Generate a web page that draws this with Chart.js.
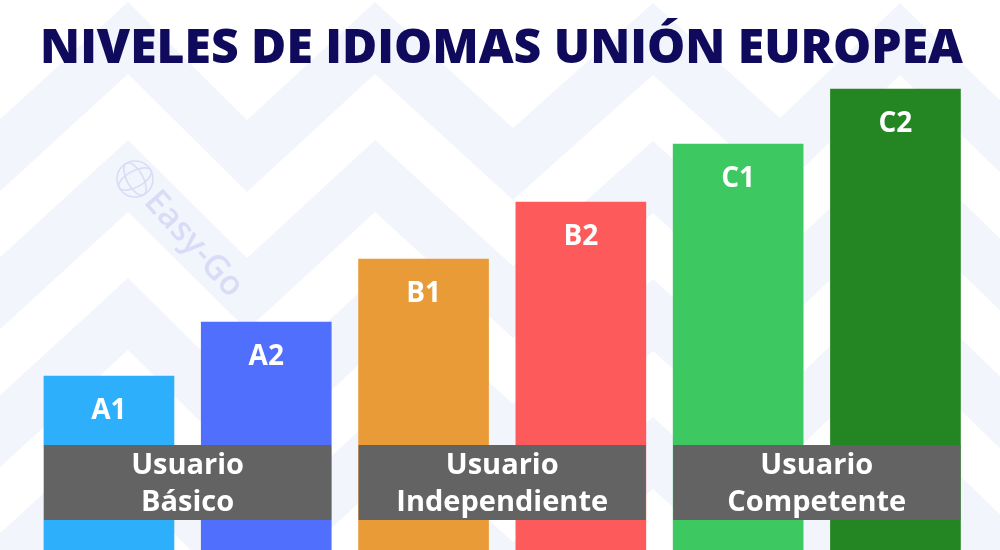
<!DOCTYPE html>
<html>
<head>
<meta charset="utf-8">
<script src="https://cdn.jsdelivr.net/npm/chart.js@4.4.1/dist/chart.umd.min.js"></script>
<style>
  html,body{margin:0;padding:0;background:#fff;}
  #wrap{position:relative;width:1000px;height:550px;}
</style>
</head>
<body>
<div id="wrap"><canvas id="c" width="1000" height="550"></canvas></div>
<script>
// ---- data ----
const titleText = "NIVELES DE IDIOMAS UNIÓN EUROPEA";
const levels = ["A1", "A2", "B1", "B2", "C1", "C2"];
const levelValues = [174, 228, 291, 348, 406, 461];
const levelColors = ["#2eaffc", "#4f6ffc", "#e99b38", "#fd5b5b", "#3dc862", "#248622"];
const groupLabels = [["Usuario", "Básico"], ["Usuario", "Independiente"], ["Usuario", "Competente"]];
const watermarkText = "Easy-Go";

// background zigzag (decoration)
const zigTop = [[-3,122],[128,2],[247,120],[375,2],[513,128],[653,3],[780,118],[900,3],[1022,122]];

const decoPlugin = {
  id: 'deco',
  beforeDraw(chart) {
    const ctx = chart.ctx;
    ctx.save();
    ctx.fillStyle = '#ffffff';
    ctx.fillRect(0, 0, chart.width, chart.height);
    ctx.fillStyle = '#f3f5fd';
    for (let k = 0; k < 4; k++) {
      const off = k * 138;
      ctx.beginPath();
      zigTop.forEach((p, i) => { if (i === 0) ctx.moveTo(p[0], p[1] + off); else ctx.lineTo(p[0], p[1] + off); });
      for (let i = zigTop.length - 1; i >= 0; i--) ctx.lineTo(zigTop[i][0], zigTop[i][1] + off + 72);
      ctx.closePath();
      ctx.fill();
    }
    // watermark
    ctx.strokeStyle = '#d9dcf6';
    ctx.lineWidth = 1.6;
    const gx = 135, gy = 179, r = 18;
    ctx.beginPath(); ctx.arc(gx, gy, r, 0, Math.PI * 2); ctx.stroke();
    ctx.beginPath(); ctx.ellipse(gx, gy, r * 0.45, r, -0.5, 0, Math.PI * 2); ctx.stroke();
    ctx.beginPath(); ctx.ellipse(gx, gy, r, r * 0.45, -0.5, 0, Math.PI * 2); ctx.stroke();
    ctx.save();
    ctx.translate(150, 196);
    ctx.rotate(48 * Math.PI / 180);
    ctx.fillStyle = '#d9dcf6';
    ctx.font = '600 34px "Open Sans"';
    ctx.textBaseline = 'middle';
    ctx.fillText(watermarkText, 0, 0);
    ctx.restore();
    // title
    ctx.fillStyle = '#0f0a5c';
    ctx.font = '800 48px "Open Sans"';
    const w = ctx.measureText(titleText).width;
    const size = 48 * 923 / w;
    ctx.font = '800 ' + size.toFixed(2) + 'px "Open Sans"';
    ctx.textAlign = 'center';
    ctx.textBaseline = 'alphabetic';
    ctx.fillText(titleText, 501.5, 63);
    ctx.restore();
  },
  afterDatasetsDraw(chart) {
    const ctx = chart.ctx;
    const meta = chart.getDatasetMeta(0);
    ctx.save();
    ctx.fillStyle = '#ffffff';
    ctx.font = 'bold 28px "Open Sans"';
    ctx.textAlign = 'center';
    ctx.textBaseline = 'middle';
    meta.data.forEach((bar, i) => {
      ctx.fillText(levels[i], bar.x, bar.y + 35);
    });
    groupLabels.forEach((lines, g) => {
      const b1 = meta.data[g * 2], b2 = meta.data[g * 2 + 1];
      const x1 = b1.x - b1.width / 2, x2 = b2.x + b2.width / 2;
      ctx.fillStyle = '#636363';
      ctx.fillRect(x1, 445, x2 - x1, 75);
      ctx.fillStyle = '#ffffff';
      ctx.font = 'bold 29px "Open Sans"';
      ctx.fillText(lines[0], (x1 + x2) / 2, 466);
      ctx.fillText(lines[1], (x1 + x2) / 2, 503);
    });
    ctx.restore();
  }
};

new Chart(document.getElementById('c'), {
  type: 'bar',
  data: {
    labels: levels,
    datasets: [{
      data: levelValues,
      backgroundColor: levelColors,
      borderWidth: 0,
      barThickness: 130
    }]
  },
  options: {
    responsive: false,
    animation: false,
    devicePixelRatio: 1,
    layout: { padding: { left: 30.3, right: 25.9, top: 0, bottom: 0 } },
    plugins: { legend: { display: false }, tooltip: { enabled: false }, title: { display: false } },
    scales: {
      x: { display: false, offset: true, grid: { display: false } },
      y: { display: false, min: 0, max: 550, grid: { display: false } }
    }
  },
  plugins: [decoPlugin]
});
</script>
</body>
</html>
